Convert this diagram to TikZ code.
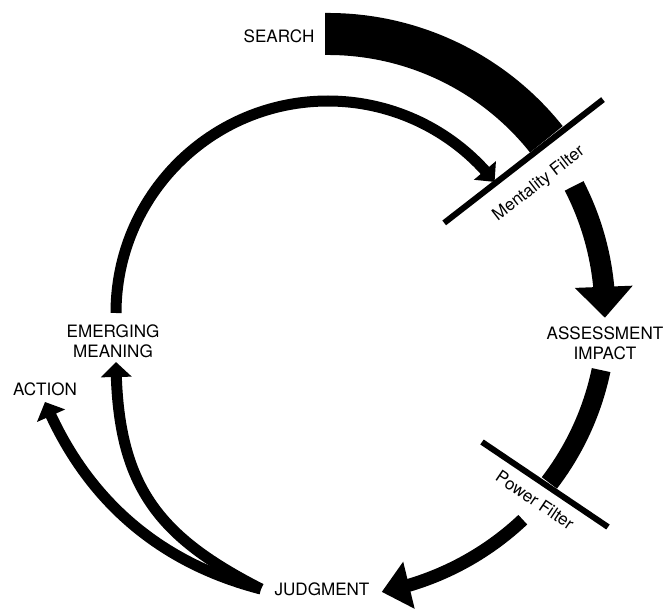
\documentclass[tikz,border=0pt]{standalone}
\usepackage{fontspec}
\setmainfont{TeX Gyre Heros}
\usetikzlibrary{arrows.meta,bending}

\begin{document}
\begin{tikzpicture}[x=0.75pt,y=0.75pt,yscale=-1,xscale=1,
  lbl/.style={inner sep=0.75pt,font=\fontsize{12.8}{15}\selectfont,align=center},
  filt/.style={line width=4.5pt},
  band/.style={line width=#1}]
\useasboundingbox (0,0) rectangle (665,610);

% end points of the loop
\coordinate (srchA) at (325.1,34);
\coordinate (mindA) at (116,313);
\coordinate (asmA) at (574.1,185.9);
\coordinate (powA) at (601.1,370.1);
\coordinate (judA) at (522.8,519.7);
\coordinate (root) at (261,589);
\coordinate (emTip) at (116,362);
\coordinate (acTip) at (45,402);
\coordinate (mf1) at (444.2,222.9);
\coordinate (mf2) at (603,99.6);
\coordinate (pf1) at (482,442);
\coordinate (pf2) at (608,527);

%Curve Lines
\draw [band=31.5pt] (srchA) arc[start angle=-90.6,end angle=-38.5,radius=279];
%Curve Lines
\draw [band=8.25pt,-{Triangle[width=21pt,length=11.25pt]}] (mindA) arc[start angle=180,end angle=321.8,radius=212];
%Curve Lines
\draw [band=15.75pt,-{Triangle[width=42pt,length=23.25pt]}] (asmA) arc[start angle=-27.3,end angle=1,radius=277];
%Curve Lines
\draw [band=14.25pt] (powA) arc[start angle=11.8,end angle=37.5,radius=279];
%Curve Lines
\draw [band=9.75pt,-{Triangle[width=35pt,length=21pt]}] (judA) arc[start angle=46.7,end angle=79.1,radius=284];
%Curve Lines
\draw [band=8.25pt,-{Triangle[width=22.5pt,length=11.25pt]}] (root) .. controls (157,536) and (117,485) .. (emTip);
%Curve Lines
\draw [band=8.25pt,-{Triangle[width=22.5pt,length=11.25pt]}] (root) .. controls (129,555) and (72,466) .. (acTip);

%Straight Lines
\draw [filt] (mf1) -- (mf2);
%Straight Lines
\draw [filt] (pf1) -- (pf2);

% Text Node
\draw (279,36) node [lbl] (search) {SEARCH};
% Text Node
\draw (605,343) node [lbl] (assess) {ASSESSMENT\\IMPACT};
% Text Node
\draw (322,589) node [lbl] (judge) {JUDGMENT};
% Text Node
\draw (113,341) node [lbl] (emerge) {EMERGING\\MEANING};
% Text Node
\draw (45,389) node [lbl] (action) {ACTION};
% Text Node
\draw (539,184) node [lbl,rotate=37.8] (mental) {Mentality Filter};
% Text Node
\draw (535,500) node [lbl,rotate=-34] (power) {Power Filter};

\end{tikzpicture}
\end{document}
